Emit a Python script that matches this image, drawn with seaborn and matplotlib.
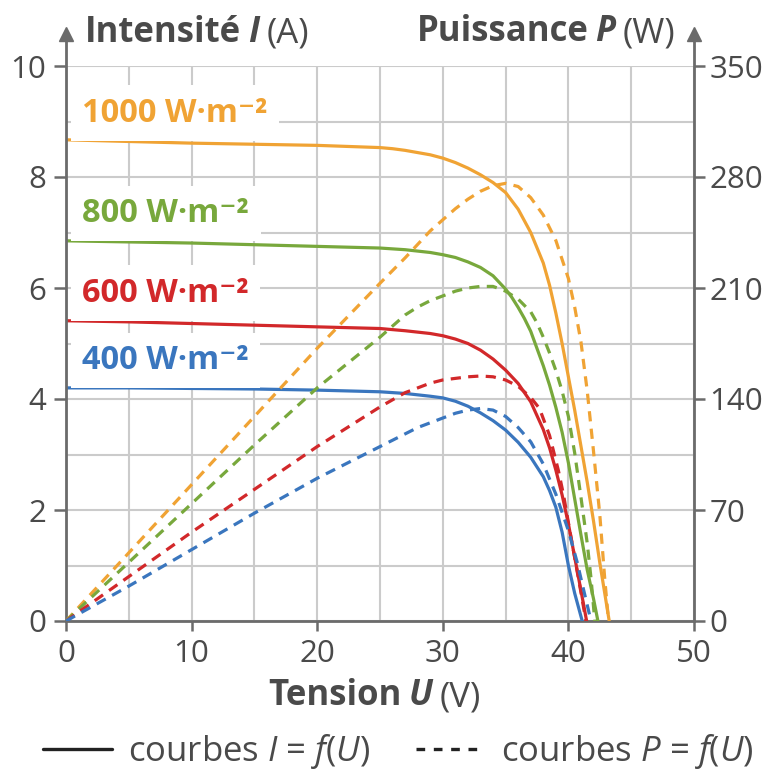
import pandas as pd
import seaborn as sns
import matplotlib.pyplot as plt
from matplotlib.lines import Line2D

# Courbes I = f(U) pour chaque éclairement
u_i_1000 = [0, 5, 10, 15, 20, 25, 26, 27, 28, 29, 30, 31, 32, 33, 34, 35, 36, 37, 38, 38.5, 39, 39.5, 40, 40.5, 41, 41.5, 42, 42.5, 43, 43.25]
i_1000 = [8.67, 8.64, 8.61, 8.59, 8.57, 8.53, 8.51, 8.48, 8.44, 8.4, 8.34, 8.26, 8.16, 8.04, 7.9, 7.72, 7.42, 7.0, 6.45, 6.05, 5.55, 5.0, 4.4, 3.8, 3.15, 2.5, 1.8, 1.05, 0.35, 0]

u_i_800 = [0, 5, 10, 15, 20, 25, 27, 29, 30, 31, 32, 33, 34, 35, 35.5, 36, 36.5, 37, 38, 38.5, 39, 39.5, 40, 40.5, 41, 41.5, 42, 42.35]
i_800 = [6.85, 6.83, 6.81, 6.78, 6.75, 6.72, 6.69, 6.64, 6.6, 6.55, 6.47, 6.37, 6.22, 5.98, 5.83, 5.65, 5.45, 5.22, 4.6, 4.25, 3.85, 3.4, 2.85, 2.2, 1.55, 0.92, 0.4, 0]

u_i_600 = [0, 5, 10, 15, 20, 25, 27, 29, 30, 31, 32, 33, 34, 35, 36, 37, 38, 38.5, 39, 39.5, 40, 40.5, 41, 41.45]
i_600 = [5.41, 5.39, 5.36, 5.33, 5.3, 5.27, 5.23, 5.18, 5.14, 5.08, 5.0, 4.88, 4.72, 4.52, 4.28, 3.95, 3.45, 3.12, 2.72, 2.27, 1.75, 1.15, 0.55, 0]

u_i_400 = [0, 5, 10, 15, 20, 25, 27, 29, 30, 31, 32, 33, 34, 35, 36, 37, 38, 38.5, 39, 39.5, 40, 40.5, 41.1]
i_400 = [4.2, 4.2, 4.19, 4.18, 4.16, 4.13, 4.1, 4.05, 4.02, 3.96, 3.87, 3.75, 3.61, 3.44, 3.22, 2.95, 2.6, 2.35, 2.05, 1.6, 1.0, 0.5, 0]

# Courbes P = f(U)
u_p_1000 = [0, 5, 10, 15, 20, 25, 27, 29, 31, 32, 33, 34, 35, 36, 37, 38, 39, 40, 40.5, 41, 41.5, 42, 42.5, 42.9, 43.2]
p_1000 = [0, 43, 86, 129, 172, 213, 229, 246, 260, 266, 271, 274.5, 276, 274, 267, 256, 240, 216, 198, 176, 145, 107, 67, 26, 0]

u_p_800 = [0, 5, 10, 15, 20, 25, 27, 28, 29, 30, 31, 32, 33, 34, 35, 36, 37, 37.5, 38, 38.5, 39, 39.5, 40, 40.5, 41, 41.5, 41.8, 42.1]
p_800 = [0, 37, 74, 111, 147, 179, 193, 198, 202, 205, 208, 210, 211, 211, 208, 203, 195, 188, 179, 169, 158, 145, 129, 106, 78, 49, 27, 0]

u_p_600 = [0, 5, 10, 15, 20, 25, 27, 28, 29, 30, 31, 32, 33, 34, 35, 36, 37, 37.7, 38.5, 39.2, 39.6, 40, 40.5, 41, 41.4]
p_600 = [0, 28, 56, 83, 110, 135, 144, 147, 150, 152, 153, 154, 154.5, 154, 152, 148, 141, 134, 117, 95, 80, 62, 40, 18, 0]

u_p_400 = [0, 5, 10, 15, 20, 25, 27, 28, 29, 30, 31, 32, 33, 34, 35, 36, 37, 38, 39, 40, 40.7, 41.2, 41.8]
p_400 = [0, 22, 45, 68, 90, 110, 118, 122, 125, 128, 131, 133, 134, 133, 129, 122, 113, 99, 80, 57, 37, 20, 0]

labels = ['1000 W·m⁻²', '800 W·m⁻²', '600 W·m⁻²', '400 W·m⁻²']
label_y = [9.0, 7.19, 5.75, 4.54]
colors = ['#F0A334', '#78A83C', '#D2282A', '#3A76BE']

x_ticks = [0, 10, 20, 30, 40, 50]
i_ticks = [0, 2, 4, 6, 8, 10]
p_ticks = [0, 70, 140, 210, 280, 350]

sns.set_theme(style='white')
plt.rcParams['font.family'] = ['Open Sans', 'DejaVu Sans']
plt.rcParams['mathtext.fontset'] = 'custom'
plt.rcParams['mathtext.rm'] = 'Open Sans'
plt.rcParams['mathtext.it'] = 'Open Sans:italic'

FS = 22.5      # graduations
FS_LAB = 23.5  # éclairements
FS_TIT = 25    # titres des axes
FS_LEG = 25
TXT = '#4a4a4a'
AXC = '#6b6b6b'
GRID = '#cbcbcb'
LW = 2.3
DASH = (0, (3.2, 2.3))

# tables longues pour seaborn
df_i = pd.concat([pd.DataFrame({'U': u, 'I': i, 'E': lab}) for u, i, lab in
                  zip([u_i_1000, u_i_800, u_i_600, u_i_400], [i_1000, i_800, i_600, i_400], labels)])
df_p = pd.concat([pd.DataFrame({'U': u, 'P': p, 'E': lab}) for u, p, lab in
                  zip([u_p_1000, u_p_800, u_p_600, u_p_400], [p_1000, p_800, p_600, p_400], labels)])
pal = dict(zip(labels, colors))

fig = plt.figure(figsize=(7.76, 7.71), dpi=100)
ax = fig.add_axes([66 / 776, 150 / 771, 628 / 776, 555 / 771])
ax.set_facecolor('none')

sns.lineplot(data=df_i, x='U', y='I', hue='E', palette=pal, estimator=None, sort=False,
             legend=False, lw=LW, ax=ax, zorder=3)

ax.set_xlim(0, 50)
ax.set_ylim(0, 10)
ax.set_xticks(x_ticks)
ax.set_xticks(range(0, 51, 5), minor=True)
ax.set_yticks(i_ticks)
ax.set_yticks(range(0, 11), minor=True)
ax.grid(which='both', color=GRID, lw=1.5)
ax.set_axisbelow(True)
ax.set_xlabel('')
ax.set_ylabel('')
for s in ['top', 'right', 'left']:
    ax.spines[s].set_visible(False)
ax.spines['bottom'].set_color(AXC)
ax.spines['bottom'].set_linewidth(2)
ax.tick_params(axis='both', which='minor', length=0)
ax.tick_params(axis='y', which='major', length=9, width=1.8, color=AXC, pad=5,
               labelsize=FS, labelcolor=TXT, left=True)
ax.tick_params(axis='x', which='major', length=7, width=1.8, color=AXC, pad=6,
               labelsize=FS, labelcolor=TXT, bottom=True)

# étiquettes des éclairements (fond blanc qui coupe la grille)
for lab, y, c in zip(labels, label_y, colors):
    ax.text(1.3, y, lab, color=c, fontsize=FS_LAB, fontweight='bold', va='baseline', ha='left',
            zorder=4, bbox=dict(facecolor='white', edgecolor='none', boxstyle='square,pad=0.35'))

ax2 = ax.twinx()
sns.lineplot(data=df_p, x='U', y='P', hue='E', palette=pal, estimator=None, sort=False,
             legend=False, lw=LW, linestyle=DASH, ax=ax2)
ax2.set_ylim(0, 350)
ax2.set_yticks(p_ticks)
ax2.set_ylabel('')
ax2.grid(False)
for s in ['top', 'left', 'bottom', 'right']:
    ax2.spines[s].set_visible(False)
ax2.tick_params(axis='y', length=8, width=1.8, color=AXC, pad=3, labelsize=FS,
                labelcolor=TXT, right=True)

# axes verticaux fléchés
for xa in [0, 1]:
    ax.plot([xa, xa], [0, 1.05], transform=ax.transAxes, color=AXC, lw=2, clip_on=False, zorder=5)
    ax.plot(xa, 1.057, marker='^', ms=10, color=AXC, transform=ax.transAxes, clip_on=False, zorder=5)


def titre(parts, x, y, right=False):
    # parts: (texte, graisse, style, écart avant en points)
    seq = parts[::-1] if right else parts
    prev = None
    for k, (s, w, st, gap) in enumerate(seq):
        kw = dict(fontsize=FS_TIT, fontweight=w, fontstyle=st, color=TXT, annotation_clip=False)
        if prev is None:
            prev = ax.annotate(s, xy=(x, y), xycoords='figure pixels', ha='right' if right else 'left',
                               va='baseline', **kw)
        elif right:
            g = seq[k - 1][3]
            prev = ax.annotate(s, xy=(0, 0), xycoords=prev, xytext=(-g, 0), textcoords='offset points',
                               ha='right', va='bottom', **kw)
        else:
            prev = ax.annotate(s, xy=(1, 0), xycoords=prev, xytext=(gap, 0), textcoords='offset points',
                               ha='left', va='bottom', **kw)


titre([('Intensité', 'bold', 'normal', 0), ('I', 'bold', 'italic', 5), ('(A)', 'normal', 'normal', 5)],
      85, 771 - 42)
titre([('Puissance', 'bold', 'normal', 0), ('P', 'bold', 'italic', 5), ('(W)', 'normal', 'normal', 5)],
      675, 771 - 42, right=True)
titre([('Tension', 'bold', 'normal', 0), ('U', 'bold', 'italic', 5), ('(V)', 'normal', 'normal', 5)],
      268, 771 - 705)

handles = [Line2D([], [], color='#222222', lw=2.4),
           Line2D([], [], color='#222222', lw=2.4, linestyle=(0, (2.6, 2.6)))]
fig.legend(handles, ['courbes $I$ = $f$($U$)', 'courbes $P$ = $f$($U$)'], loc='center',
           bbox_to_anchor=(0.513, 0.025), ncol=2, frameon=False, fontsize=FS_LEG,
           handlelength=2.0, handletextpad=0.45, columnspacing=1.3, labelcolor=TXT)

fig.savefig('out.png', dpi=100)
